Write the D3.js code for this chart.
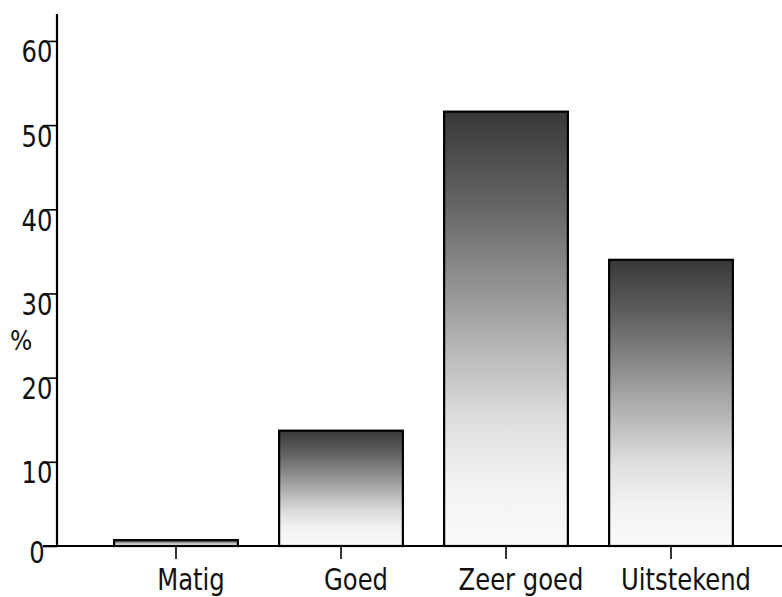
<!DOCTYPE html>
<html>
<head>
<meta charset="utf-8">
<script src="https://cdn.jsdelivr.net/npm/d3@7"></script>
<style>
  html, body { margin: 0; padding: 0; background: #fff; }
  svg { display: block; }
  text { font-family: "Liberation Sans Narrow", "DejaVu Sans Condensed", "Liberation Sans", sans-serif; fill: #111; }
</style>
</head>
<body>
<svg id="chart" width="782" height="597"></svg>
<script>
// Ratings and share of respondents (%)
const categories = ["Matig", "Goed", "Zeer goed", "Uitstekend"];
const percentages = [0.7, 13.7, 51.6, 34.0];
const yTicks = [0, 10, 20, 30, 40, 50, 60];
const yLabel = "%";

const svg = d3.select("#chart");

const axisX = 57, baseY = 546, topY = 14;
const squeeze = 0.9; // narrow the lettering horizontally

const y = d3.scaleLinear().domain([0, 63.2]).range([baseY, topY]);
const x = d3.scaleBand()
  .domain(categories)
  .range([93.5, 753.5])
  .paddingInner(0.25)
  .paddingOuter(0.125);

// Vertical shading: dark at the top fading to near-white at the base
const defs = svg.append("defs");
const grad = defs.append("linearGradient")
  .attr("id", "barShade")
  .attr("x1", 0).attr("y1", 0).attr("x2", 0).attr("y2", 1);
[[0, "#383838"], [0.22, "#666666"], [0.5, "#ababab"], [0.7, "#dcdcdc"], [0.85, "#f2f2f2"], [1, "#fafafa"]]
  .forEach(([o, c]) => grad.append("stop").attr("offset", o).attr("stop-color", c));

// Bars
svg.append("g")
  .selectAll("rect")
  .data(categories.map((c, i) => ({ c, v: percentages[i] })))
  .join("rect")
  .attr("x", d => x(d.c))
  .attr("y", d => y(d.v))
  .attr("width", x.bandwidth())
  .attr("height", d => y(0) - y(d.v))
  .attr("fill", "url(#barShade)")
  .attr("stroke", "#000")
  .attr("stroke-width", 2.2);

// Y axis
const yAxis = d3.axisLeft(y).tickValues(yTicks).tickSize(14).tickPadding(0).tickSizeOuter(0);
const gy = svg.append("g").attr("transform", `translate(${axisX},0)`).call(yAxis);
gy.attr("font-family", null).attr("font-size", null);
gy.select(".domain").remove();
gy.selectAll(".tick line").attr("stroke", "#000").attr("stroke-width", 1.6);
gy.selectAll(".tick text")
  .attr("x", (37 - axisX) / squeeze)
  .attr("dy", null)
  .attr("y", d => d === 0 ? 16 : 21)
  .attr("text-anchor", "middle")
  .attr("transform", `scale(${squeeze},1)`)
  .style("font-size", "30px")
  .attr("fill", "#111");

svg.append("line")
  .attr("x1", axisX).attr("x2", axisX)
  .attr("y1", topY).attr("y2", baseY)
  .attr("stroke", "#000").attr("stroke-width", 2.2);

// X axis
const xAxis = d3.axisBottom(x).tickSize(13).tickPadding(0).tickSizeOuter(0);
const gx = svg.append("g").attr("transform", `translate(0,${baseY})`).call(xAxis);
gx.attr("font-family", null).attr("font-size", null);
gx.select(".domain").remove();
gx.selectAll(".tick line").attr("stroke", "#000").attr("stroke-width", 1.6);
gx.selectAll(".tick text")
  .attr("dy", null)
  .attr("y", 44)
  .attr("x", 15 / squeeze)
  .attr("transform", `scale(${squeeze},1)`)
  .style("font-size", "30px")
  .attr("fill", "#111");

svg.append("line")
  .attr("x1", 43).attr("x2", 782)
  .attr("y1", baseY).attr("y2", baseY)
  .attr("stroke", "#000").attr("stroke-width", 2);

// Unit label
svg.append("text")
  .attr("x", 21).attr("y", 350)
  .attr("text-anchor", "middle")
  .style("font-size", "26px")
  .text(yLabel);
</script>
</body>
</html>
